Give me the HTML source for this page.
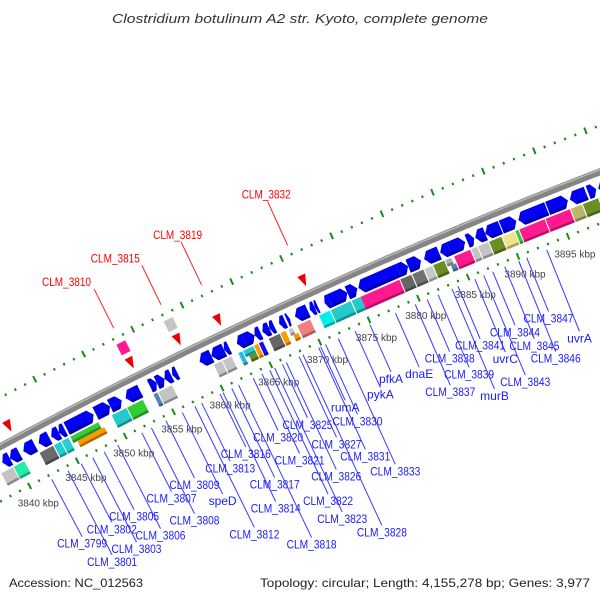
<!DOCTYPE html>
<html><head><meta charset="utf-8"><title>Clostridium botulinum A2 str. Kyoto genome map</title>
<style>
html,body{margin:0;padding:0;background:#fff;}
svg{display:block;font-family:"Liberation Sans",sans-serif;}
</style></head>
<body>
<svg id="map" width="600" height="600" viewBox="0 0 600 600">
<text x="300" y="23" text-anchor="middle" font-style="italic" font-size="13" fill="#333" textLength="376" lengthAdjust="spacingAndGlyphs">Clostridium botulinum A2 str. Kyoto, complete genome</text>
<text x="9" y="587" font-size="12" fill="#222" textLength="134" lengthAdjust="spacingAndGlyphs">Accession: NC_012563</text>
<text x="590" y="587" text-anchor="end" font-size="12" fill="#222" textLength="330" lengthAdjust="spacingAndGlyphs">Topology: circular; Length: 4,155,278 bp; Genes: 3,977</text>
<g id="layer"></g>
</svg>
<script>
// ---- data (positions in kbp) ----
const arrowStart=[3838.8,3839.6,3841.0,3842.6,3843.9,3844.7,3845.5,3848.5,3850.0,3851.6,3854.1,3854.8,3855.6,3856.4,3859.2,3860.4,3861.7,3863.0,3863.8,3864.8,3865.6,3866.3,3867.3,3868.1,3868.9,3870.4,3870.9,3871.9,3872.4,3874.2,3875.3,3879.3,3880.3,3881.9,3883.5,3884.4,3886.2,3887.0,3888.0,3889.6,3891.3,3894.2,3896.4,3898.2,3899.2];
const arrowEnd=[3839.6,3840.6,3842.2,3843.7,3844.7,3845.3,3848.3,3850.0,3851.2,3853.1,3854.8,3855.6,3856.3,3856.9,3860.4,3861.7,3862.2,3863.8,3864.8,3865.4,3866.3,3866.8,3867.9,3868.4,3870.2,3870.9,3871.2,3872.4,3874.2,3875.2,3879.3,3880.3,3881.6,3883.4,3884.4,3886.0,3886.9,3888.0,3889.5,3891.1,3894.1,3896.2,3898.0,3899.0,3900.5];
const arrowDir=[-1,-1,-1,-1,-1,-1,1,1,1,-1,1,1,-1,-1,-1,-1,-1,-1,1,-1,-1,-1,-1,1,-1,-1,-1,-1,1,1,-1,1,1,-1,-1,1,1,-1,-1,1,-1,1,-1,1,-1];
const boxStart=[3838.2,3839.5,3842.2,3843.7,3844.5,3845.4,3845.8,3849.7,3851.3,3854.0,3854.5,3860.2,3861.1,3862.7,3863.2,3863.5,3864.3,3864.8,3865.8,3867.0,3867.8,3868.0,3868.7,3870.9,3872.1,3874.2,3875.1,3879.1,3880.3,3881.5,3882.4,3883.6,3883.9,3884.5,3886.2,3886.9,3888.0,3889.3,3890.6,3891.0,3893.6,3896.1,3897.3,3898.9];
const boxEnd=[3839.5,3840.7,3843.7,3844.5,3845.3,3848.4,3848.7,3851.3,3853.0,3854.5,3856.0,3861.1,3862.1,3863.2,3864.3,3864.3,3864.8,3865.3,3867.0,3867.6,3868.3,3868.6,3870.1,3872.1,3874.2,3875.2,3879.1,3880.3,3881.5,3882.4,3883.6,3884.3,3884.5,3886.2,3886.9,3888.0,3889.3,3890.6,3891.0,3893.6,3896.1,3897.3,3898.9,3900.2];
const boxColor=["#c4c4c4","#22eeaa","#6a6a6a","#22d0d0","#22d0d0","#33cc33","#ff9900","#22caca","#33cc33","#4f86b8","#c4c4c4","#c4c4c4","#c4c4c4","#22bbee","#22caca","#6b8e23","#ff9900","#1010ee","#666666","#ff9900","#c4c4c4","#ff9900","#f08080","#00f0f0","#22caca","#22caca","#ff1a90","#666666","#707070","#c8c8c8","#6b8e23","#b0b0b0","#4f86b8","#ff1a90","#c4c4c4","#c4c4c4","#6b8e23","#eee48c","#32cd32","#ff1a90","#ff1a90","#bdb76b","#6b8e23","#eee48c"];
const boxLane=[0,0,0,0,0,-1,1,0,0,0,0,0,0,0,-1,1,0,0,0,0,-1,1,0,0,0,0,0,0,0,0,0,-1,1,0,0,0,0,0,0,0,0,0,0,0];
const markerPos=[3840.9,3853.5,3858.3,3862.4,3871.0];
const featureNames=["CLM_3810","CLM_3815","CLM_3819","CLM_3832"];
const featurePos=[3853.5,3858.3,3862.4,3871.0];
const featureBox=["#ff1a90","#c4c4c4","",""];
const featureDepth=[97,97,101,101];
const featureDx=[-52,-51,-28,-26];
const geneNames=["CLM_3799","CLM_3801","CLM_3802","CLM_3803","CLM_3805","CLM_3806","CLM_3807","CLM_3808","CLM_3809","CLM_3812","CLM_3813","speD","CLM_3814","CLM_3816","CLM_3817","CLM_3818","CLM_3820","CLM_3821","CLM_3822","CLM_3823","CLM_3825","CLM_3826","CLM_3827","CLM_3828","CLM_3830","CLM_3831","CLM_3833","rumA","pykA","pfkA","dnaE","CLM_3837","CLM_3838","CLM_3839","murB","CLM_3841","uvrC","CLM_3843","CLM_3844","CLM_3845","CLM_3846","CLM_3847","uvrA"];
const genePos=[3842.1,3843.8,3845.2,3846.4,3847.6,3849.0,3851.5,3852.5,3854.0,3857.0,3857.7,3855.7,3859.9,3859.6,3860.8,3861.5,3863.0,3863.9,3864.7,3865.2,3866.0,3866.4,3867.7,3868.1,3870.4,3869.7,3871.7,3869.9,3873.4,3874.9,3877.5,3879.5,3880.7,3881.8,3883.2,3883.8,3885.5,3886.4,3887.3,3888.5,3889.9,3890.7,3892.7];
const geneDepth=[118,148,119,148,118,147,119,149,117,188,118,144,174,112,152,222,111,141,190,212,112,171,142,241,130,165,191,112,115,105,112,141,110,132,162,110,132,161,111,131,151,111,141];
const tickLabels=[3840,3845,3850,3855,3860,3865,3870,3875,3880,3885,3890,3895];

// ---- geometry ----
const CX=2467.6, CY=5038.8, R=5213, K0=3845, A0=-117.57, DPK=0.1198;
function P(k,d){const t=(A0+(k-K0)*DPK)*Math.PI/180;const r=R+d;return [CX+r*Math.cos(t),CY+r*Math.sin(t)];}
const NS="http://www.w3.org/2000/svg";
const layer=document.getElementById("layer");
function mk(tag,attrs){const e=document.createElementNS(NS,tag);for(const a in attrs)e.setAttribute(a,attrs[a]);layer.appendChild(e);return e;}
function ptsStr(a){return a.map(p=>p[0].toFixed(1)+","+p[1].toFixed(1)).join(" ");}
function shade(hex,f){const n=parseInt(hex.slice(1),16);const r=Math.round(((n>>16)&255)*f),g=Math.round(((n>>8)&255)*f),b=Math.round((n&255)*f);return "rgb("+r+","+g+","+b+")";}

// inner and outer tick rings
for(let k=3834;k<=3902;k++){
  const major=k%5===0;
  const a=P(k,major?-45:-47), b=P(k,major?-52:-49.5);
  const t=mk("line",{x1:a[0],y1:a[1],x2:b[0],y2:b[1],stroke:"#1a8a1a","stroke-width":2});
  
  
  const c=P(k,major?40:42), d=P(k,major?47:44.5);
  const o=mk("line",{x1:c[0],y1:c[1],x2:d[0],y2:d[1],stroke:"#1a8a1a","stroke-width":2});
  
  
}
tickLabels.forEach(k=>{
  const p=P(k,-67);
  const t=mk("text",{x:p[0].toFixed(1),y:(p[1]+4).toFixed(1),"text-anchor":"middle","font-size":"10",fill:"#444"});
  t.textContent=k+" kbp";
  
  
});

// backbone
let bp=[];for(let k=3830;k<=3906;k+=0.5)bp.push(P(k,0));
const bb=mk("polyline",{points:ptsStr(bp),fill:"none",stroke:"#858585","stroke-width":7});


let bh=[];for(let k=3830;k<=3906;k+=0.5)bh.push(P(k,2));
const bbh=mk("polyline",{points:ptsStr(bh),fill:"none",stroke:"#b8b8b8","stroke-width":1.5});



// gene label lines and labels
genePos.forEach((k,i)=>{
  const a=P(k,-53), b=P(k,-geneDepth[i]);
  const l=mk("line",{x1:a[0],y1:a[1],x2:b[0],y2:b[1],stroke:"#3a3aff","stroke-width":1});
  
  
  const t=mk("text",{x:b[0].toFixed(1),y:(b[1]+11).toFixed(1),"text-anchor":"middle","font-size":"12",fill:"#1a1aff"});
  if(geneNames[i].startsWith("CLM")){t.setAttribute("textLength","50");t.setAttribute("lengthAdjust","spacingAndGlyphs");}
  t.textContent=geneNames[i];
  
  
});

// arrows (CDS)
arrowStart.forEach((s,i)=>{
  const e=arrowEnd[i], dir=arrowDir[i];
  const tip=Math.min(0.45,(e-s)*0.5);
  let pts;
  if(dir>0) pts=[P(s,-8),P(e-tip,-8),P(e,-15),P(e-tip,-22),P(s,-22)];
  else pts=[P(e,-8),P(s+tip,-8),P(s,-15),P(s+tip,-22),P(e,-22)];
  const g=mk("polygon",{points:ptsStr(pts),fill:"#0000f4"});
  
  
  let low;
  if(dir>0) low=[P(s,-19),P(e-tip*0.5,-19),P(e-tip,-22),P(s,-22)];
  else low=[P(e,-19),P(s+tip*0.5,-19),P(s+tip,-22),P(e,-22)];
  const sh=mk("polygon",{points:ptsStr(low),fill:"#0000a8"});
  
  
});

// feature boxes
boxStart.forEach((s,i)=>{
  const e=boxEnd[i], lane=boxLane[i];
  const d1=lane===0?-24:(lane<0?-24:-31), d2=lane===0?-38:(lane<0?-31:-38);
  const b=mk("polygon",{points:ptsStr([P(s+0.05,d1),P(e-0.05,d1),P(e-0.05,d2),P(s+0.05,d2)]),fill:boxColor[i]});
  
  
  const sd=d2+2.5;
  const s2=mk("polygon",{points:ptsStr([P(s+0.05,sd),P(e-0.05,sd),P(e-0.05,d2),P(s+0.05,d2)]),fill:shade(boxColor[i],0.7)});
  
  
});

// red markers
markerPos.forEach(k=>{
  const m=mk("polygon",{points:ptsStr([P(k-0.4,20),P(k+0.4,20),P(k,8)]),fill:"#ee0000"});
  
  
});

// highlighted features with red labels
featurePos.forEach((k,i)=>{
  if(featureBox[i]){
    const b=mk("polygon",{points:ptsStr([P(k-0.45,37),P(k+0.45,37),P(k+0.45,25),P(k-0.45,25)]),fill:featureBox[i]});
    
    
  }
  const a=P(k,53), t=P(k,featureDepth[i]);
  const l=mk("line",{x1:a[0],y1:a[1],x2:t[0],y2:t[1],stroke:"#ff2020","stroke-width":1});
  
  
  const tx=mk("text",{x:(t[0]+featureDx[i]).toFixed(1),y:(t[1]-3).toFixed(1),"font-size":"12",fill:"#ff0000",textLength:"49",lengthAdjust:"spacingAndGlyphs"});
  tx.textContent=featureNames[i];
  
  
});
</script>
</body></html>
